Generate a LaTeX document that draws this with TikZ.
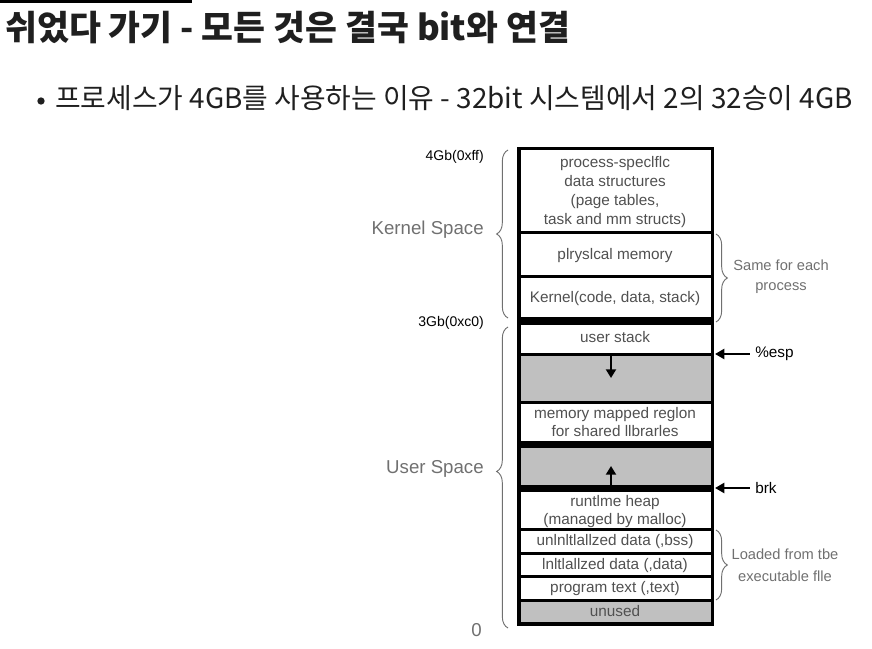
\documentclass[tikz,border=0pt]{standalone}
\usepackage{fontspec}
\setmainfont{Liberation Sans}
\newfontfamily\krfont{Noto Sans CJK KR}
\usetikzlibrary{decorations.pathreplacing,arrows.meta}
\definecolor{txtgray}{HTML}{505050}
\definecolor{lblgray}{HTML}{707070}
\definecolor{fillgray}{HTML}{C0C0C0}
\definecolor{titleink}{HTML}{1F1F1F}
\tikzset{
  seg/.style={font=\fontsize{11.5}{13}\selectfont, text=txtgray, inner sep=0pt, text height=8.5pt, text depth=2.5pt},
  space/.style={font=\fontsize{14}{16}\selectfont, text=lblgray, anchor=east, inner sep=0pt},
  addr/.style={font=\fontsize{10.5}{12}\selectfont, anchor=east, inner sep=0pt},
  note/.style={font=\fontsize{11}{13}\selectfont, text=lblgray, inner sep=0pt, text height=8pt, text depth=2.5pt},
  ptr/.style={font=\fontsize{11.5}{13}\selectfont, anchor=west, inner sep=0pt},
  divider/.style={line width=2.25pt},
  wall/.style={line width=2.6pt},
  hole/.style={fill=fillgray},
  curly/.style={decorate, decoration={brace, amplitude=8.5pt}, draw=lblgray, line width=0.7pt},
  growth/.style={line width=1.5pt, -{Triangle[length=6.5pt,width=7.5pt]}},
  pointer/.style={line width=1.7pt, {Triangle[length=7pt,width=7.5pt]}-, shorten >=3.75pt},
}
\begin{document}
\begin{tikzpicture}[x=0.75pt,y=-0.75pt]
\useasboundingbox (0,0) rectangle (872,649);
\draw[line width=2.25pt] (0,1.5) -- (192,1.5);
\node[anchor=base west, inner sep=0pt, font=\krfont\bfseries\fontsize{26}{29}\selectfont, text=titleink] (title) at (5,41) {쉬었다 가기 - 모든 것은 결국 bit와 연결};
\node[circle, fill=titleink, minimum size=5.5pt, inner sep=0pt] (dot) at (41,101) {};
\node[anchor=base west, inner sep=0pt, font=\krfont\fontsize{20.9}{23}\selectfont, text=titleink] (reason) at (55,109) {프로세스가 4GB를 사용하는 이유 - 32bit 시스템에서 2의 32승이 4GB};

\fill[hole] (519,354) rectangle (712.5,402);
\fill[hole] (519,446) rectangle (712.5,487);
\fill[hole] (519,600) rectangle (712.5,624);
\fill (519,317) rectangle (712.5,325);
\fill (519,441) rectangle (712.5,448);
\fill (519,485) rectangle (712.5,492);
\foreach \y in {233,277,354.5,402.5,529.5,553,576,600}
  \draw[divider] (519,\y) -- (712.5,\y);
\draw[wall] (519,148.5) rectangle (712.5,624);

\node[seg] (ps1) at (615,164) {process-speclflc};
\node[seg] (ps2) at (615,183) {data structures};
\node[seg] (ps3) at (615,202) {(page tables,};
\node[seg] (ps4) at (615,221) {task and mm structs)};
\node[seg] (phys) at (615,256) {plryslcal memory};
\node[seg] (kern) at (615,298) {Kernel(code, data, stack)};
\node[seg] (ustack) at (615,339) {user stack};
\node[seg] (mmap1) at (615,414) {memory mapped reglon};
\node[seg] (mmap2) at (615,432) {for shared llbrarles};
\node[seg] (heap1) at (615,502) {runtlme heap};
\node[seg] (heap2) at (615,520) {(managed by malloc)};
\node[seg] (bss) at (615,541.5) {unlnltlallzed data (,bss)};
\node[seg] (data) at (615,565) {lnltlallzed data (,data)};
\node[seg] (text) at (615,588) {program text (,text)};
\node[seg] (unused) at (615,612) {unused};

\coordinate (stacktop) at (611,356);
\coordinate (stackend) at (611,378);
\draw[growth] (stacktop) -- (stackend);
\coordinate (heaptop) at (611,487);
\coordinate (heapend) at (611,466);
\draw[growth] (heaptop) -- (heapend);

\node[addr] (top) at (484,157) {4Gb(0xff)};
\node[addr] (mid) at (484,323) {3Gb(0xc0)};
\node[space] (zero) at (482,630) {0};
\node[space] (kspace) at (484,230) {Kernel Space};
\node[space] (uspace) at (484,469) {User Space};
\draw[curly] (508,318) -- (508,150);
\draw[curly, decoration={aspect=0.52}] (508,628) -- (508,327);
\draw[curly] (716,234) -- (716,322);
\draw[curly] (716,530) -- (716,600);
\node[note] (same1) at (781,267) {Same for each};
\node[note] (same2) at (781,287) {process};
\node[note] (load1) at (785,556) {Loaded from tbe};
\node[note] (load2) at (785,578) {executable flle};

\node[ptr] (esp) at (755,354) {\%esp};
\coordinate (espat) at (715,354);
\draw[pointer] (espat) -- (esp.west);
\node[ptr] (brk) at (755,488) {brk};
\coordinate (brkat) at (715,488);
\draw[pointer] (brkat) -- (brk.west);
\end{tikzpicture}
\end{document}
